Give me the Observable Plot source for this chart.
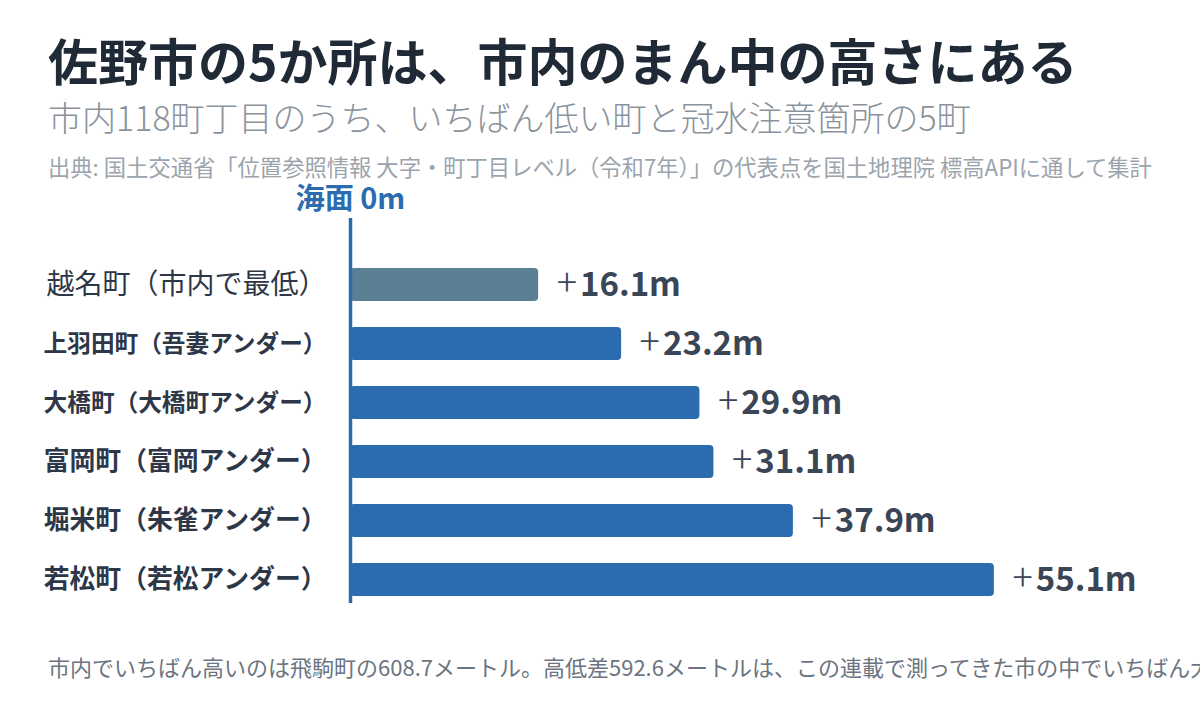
<!DOCTYPE html>
<html>
<head>
<meta charset="utf-8">
<script src="https://cdn.jsdelivr.net/npm/d3@7"></script>
<script src="https://cdn.jsdelivr.net/npm/@observablehq/plot@0.6"></script>
<style>
  html, body { margin: 0; padding: 0; background: #fff; width: 1200px; height: 708px; overflow: hidden; }
  body { position: relative; font-family: "Noto Sans CJK JP", "Noto Sans", sans-serif; }
  .abs { position: absolute; left: 48px; white-space: nowrap; line-height: 1; }
  #title { top: 34px; font-size: 50px; font-weight: 700; color: #1f2a36; }
  #subtitle { top: 100px; font-size: 34px; font-weight: 300; color: #8a939c; }
  #source { top: 155px; font-size: 22.3px; font-weight: 400; color: #9ba4ad; }
  #caption { top: 655px; font-size: 22px; font-weight: 400; color: #6b7480; }
  #chart { position: absolute; left: 0; top: 170px; }
</style>
</head>
<body>
<div id="title" class="abs">佐野市の5か所は、市内のまん中の高さにある</div>
<div id="subtitle" class="abs">市内118町丁目のうち、いちばん低い町と冠水注意箇所の5町</div>
<div id="source" class="abs">出典: 国土交通省「位置参照情報 大字・町丁目レベル（令和7年）」の代表点を国土地理院 標高APIに通して集計</div>
<div id="chart"></div>
<div id="caption" class="abs">市内でいちばん高いのは飛駒町の608.7メートル。高低差592.6メートルは、この連載で測ってきた市の中でいちばん大きい。</div>
<script>
const towns = ["越名町（市内で最低）", "上羽田町（吾妻アンダー）", "大橋町（大橋町アンダー）", "富岡町（富岡アンダー）", "堀米町（朱雀アンダー）", "若松町（若松アンダー）"];
const elevations = [16.1, 23.2, 29.9, 31.1, 37.9, 55.1];
const kinds = ["lowest", "underpass", "underpass", "underpass", "underpass", "underpass"];
const zeroLabel = "海面 0m";

const data = towns.map((t, i) => ({town: t, elev: elevations[i], kind: kinds[i]}));
const labelWidth = 284;

const svg = Plot.plot({
  width: 1200,
  height: 460,
  marginLeft: 350,
  marginRight: 32,
  marginTop: 48,
  marginBottom: 27,
  style: {fontFamily: "'Noto Sans CJK JP', 'Noto Sans', sans-serif", background: "transparent", overflow: "visible"},
  x: {domain: [0, 70], axis: null},
  y: {domain: towns, range: [89, 435], paddingInner: 0.433, paddingOuter: 0.1, axis: null},
  color: {domain: ["lowest", "underpass"], range: ["#5b7f95", "#2b6cb0"]},
  marks: [
    Plot.barX(data, {x: "elev", y: "town", fill: "kind", rx: 4}),
    Plot.ruleX([0], {stroke: "#2b6cb0", strokeWidth: 3.5}),
    Plot.text([zeroLabel], {x: 0, frameAnchor: "top", text: d => d, dy: -30, fill: "#2b6cb0", fontSize: 29, fontWeight: 700, textAnchor: "middle"}),
    Plot.text(data.filter(d => d.kind === "lowest"), {x: 0, y: "town", text: "town", dx: -24, textAnchor: "end", fontSize: d => Math.min(28, labelWidth / d.town.length), fontWeight: 400, fill: "#2d3748"}),
    Plot.text(data.filter(d => d.kind !== "lowest"), {x: 0, y: "town", text: "town", dx: -24, textAnchor: "end", fontSize: d => Math.min(28, labelWidth / d.town.length), fontWeight: 700, fill: "#2d3748"}),
    Plot.text(data, {x: "elev", y: "town", text: d => "+" + d.elev.toFixed(1) + "m", dx: 18, textAnchor: "start", fontSize: 33, fill: "#3a4556"})
  ]
});

d3.select(svg).selectAll("text").each(function() {
  const t = d3.select(this);
  const s = t.text();
  if (!s.startsWith("+")) return;
  t.text(null);
  t.append("tspan").style("font-weight", 300).style("font-size", "38px").text("+");
  t.append("tspan").attr("dx", 3).style("font-weight", 700).text(s.slice(1));
});

document.getElementById("chart").appendChild(svg);
</script>
</body>
</html>
